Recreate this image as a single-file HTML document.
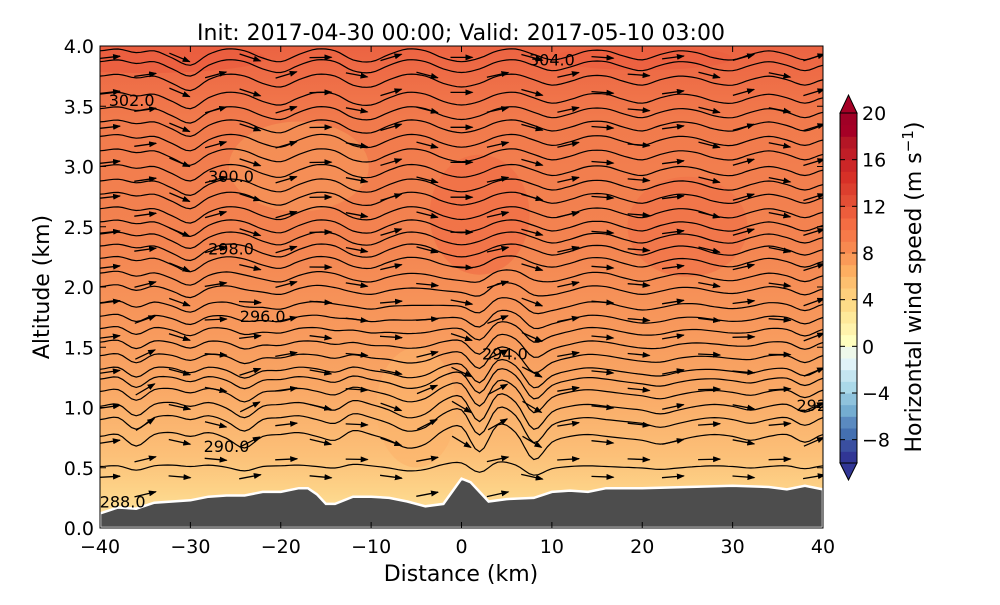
<!DOCTYPE html>
<html><head><meta charset="utf-8"><style>
body{margin:0;background:#fff;}
svg text{font-family:"DejaVu Sans","Liberation Sans",sans-serif;}
</style></head><body>
<svg id="c" width="1000" height="600" xmlns="http://www.w3.org/2000/svg">
<defs>
<linearGradient id="bg" x1="0" y1="1" x2="0" y2="0">
<stop offset="0" stop-color="#fee8a0"/><stop offset="0.08" stop-color="#fdd287"/>
<stop offset="0.15" stop-color="#fcc078"/><stop offset="0.3" stop-color="#f9a664"/>
<stop offset="0.45" stop-color="#f7955a"/><stop offset="0.6" stop-color="#f38350"/>
<stop offset="0.85" stop-color="#f17a4c"/><stop offset="1" stop-color="#ec6342"/>
</linearGradient>
<clipPath id="pc"><rect x="100" y="46" width="723" height="482"/></clipPath>
<marker id="ah" markerWidth="8" markerHeight="6" refX="7" refY="3" orient="auto" markerUnits="userSpaceOnUse"><path d="M0,0 L8,3 L0,6 z" fill="#000"/></marker>
</defs>
<g id="plot" clip-path="url(#pc)"></g>
<rect x="100" y="46" width="723" height="482" fill="none" stroke="#000" stroke-width="1"/>
<g id="axes"></g>
<g id="cbar"></g>
<text x="461" y="40" text-anchor="middle" font-size="22">Init: 2017-04-30 00:00; Valid: 2017-05-10 03:00</text>
<text x="461" y="581" text-anchor="middle" font-size="22">Distance (km)</text>
<text transform="translate(49,287) rotate(-90)" text-anchor="middle" font-size="22">Altitude (km)</text>
<text transform="translate(921,287) rotate(-90)" text-anchor="middle" font-size="22">Horizontal wind speed (m s<tspan dy="-8" font-size="15">−1</tspan><tspan dy="8">)</tspan></text>
</svg>
<script>
const terrainX=[-40,-38,-36,-34,-30,-28,-26,-24,-22,-20,-18,-17,-16,-15,-14,-12,-10,-8,-6,-4,-2,0,1,2,3,5,8,10,12,14,16,20,25,30,34,36,38,40];
const terrainH=[.12,.17,.16,.21,.23,.26,.27,.27,.30,.30,.33,.33,.28,.20,.20,.26,.26,.25,.22,.18,.20,.41,.38,.30,.22,.24,.25,.30,.31,.30,.33,.33,.34,.35,.34,.32,.35,.32];
const dispX=[-40,-38,-36,-34,-32,-30,-28,-26,-24,-22,-20,-18,-16,-14,-12,-10,-8,-6,-4,-2,0,2,4,6,8,10,12,14,16,18,20,22,24,26,28,30,32,34,36,38,40];
const dispUpper=[.02,.03,.01,.02,-.02,-.06,0,.03,.02,-.02,-.04,0,.03,.02,-.03,-.04,0,.03,.02,-.02,-.04,-.02,.02,.03,0,-.03,-.01,.02,.02,-.01,-.03,0,.02,.01,-.02,-.03,0,.02,0,-.03,0];
const dispLower=[0,.01,-.05,.01,.02,0,.02,-.01,-.06,0,.01,.02,0,-.02,.03,.01,-.02,-.06,-.04,.03,.05,-.08,.06,.02,-.12,-.03,0,.01,0,-.01,-.02,-.04,-.02,0,.01,0,-.02,0,.01,-.03,.01];
const isoLevels=[.51,.76,.9,1.01,1.13,1.23,1.31,1.42,1.53,1.64,1.74,1.85,1.98,2.09,2.21,2.31,2.41,2.51,2.62,2.74,2.85,2.97,3.1,3.22,3.34,3.45,3.57,3.72,3.84,3.93];
const labelText=["288.0","290.0","292.0","294.0","296.0","298.0","300.0","302.0","304.0"];
const labelX=[-37.5,-26,39.6,4.8,-22,-25.5,-25.5,-36.5,10];
const labelY=[.22,.68,1.02,1.45,1.76,2.32,2.92,3.55,3.89];
const cbarTicks=[20,16,12,8,4,0,-4,-8];
const cbarColors=["#313695","#3a4fa0","#4470b1","#5a8ac0","#74add1","#8fc3dd","#abd9e9","#c4e5f0","#e0f3f8","#eef8ea","#ffffbf","#fff3ac","#fee99a","#fedc88","#fece7c","#fdbf6f","#fdae61","#fa9a58","#f88950","#f67a49","#f46d43","#ec5d3c","#e34e35","#dc3f2e","#d73027","#cc2627","#c01e27","#b41626","#a50026","#a00026"];
const NS="http://www.w3.org/2000/svg";
const X=x=>100+(x+40)/80*723, Y=y=>528-y/4*482;
const CY=v=>463-(v+10)*350/30;
function interp(xs,ys,x){for(let i=0;i<xs.length-1;i++){if(x>=xs[i]&&x<=xs[i+1]){const t=(x-xs[i])/(xs[i+1]-xs[i]);return ys[i]+t*(ys[i+1]-ys[i]);}}return x<xs[0]?ys[0]:ys[ys.length-1];}
function cr(xs,ys,x){const n=xs.length;for(let i=0;i<n-1;i++){if(x>=xs[i]&&x<=xs[i+1]){const t=(x-xs[i])/(xs[i+1]-xs[i]);const p0=ys[Math.max(0,i-1)],p1=ys[i],p2=ys[i+1],p3=ys[Math.min(n-1,i+2)];
return 0.5*((2*p1)+(-p0+p2)*t+(2*p0-5*p1+4*p2-p3)*t*t+(-p0+3*p1-3*p2+p3)*t*t*t);}}return x<xs[0]?ys[0]:ys[n-1];}
function disp(h,x){const w=Math.max(0,Math.min(1,(2.3-h)/1.3));const aL=h<0.6?0.6:1.6;return (1-w)*1.5*cr(dispX,dispUpper,x)+w*aL*cr(dispX,dispLower,x);}
function mk(tag,attrs,parent){const e=document.createElementNS(NS,tag);for(const k in attrs)e.setAttribute(k,attrs[k]);parent.appendChild(e);return e;}
const plot=document.getElementById('plot');
const bgr=mk('rect',{x:100,y:46,width:723,height:482,fill:'url(#bg)'},plot);


const patches=[[-18,3.0,70,45,"#f7995c"],[2,2.6,50,60,"#f06b45"],[25,2.5,60,50,"#f07048"],[-5,1.0,40,60,"#fbb36b"],[-35,3.9,120,15,"#ea5a3d"],[20,3.9,90,12,"#eb5e3f"]];
patches.forEach(p=>{const e=mk('ellipse',{cx:X(p[0]),cy:Y(p[1]),rx:p[2],ry:p[3],fill:p[4],opacity:.6},plot);

});
isoLevels.forEach(h=>{let d='';for(let x=-40;x<=40.01;x+=0.5){const tH=interp(terrainX,terrainH,x);let y=h+disp(h,x);if(y<tH+0.08)y=tH+0.08;d+=(d?'L':'M')+X(x).toFixed(1)+','+Y(y).toFixed(1);}
const p=mk('path',{d:d,fill:'none',stroke:'#000','stroke-width':1.2},plot);

});
let row=0;
for(let h=0.28;h<3.98;h+=0.145,row++){const off=(row%2)?-39:-35;for(let x=off;x<40;x+=7.8){const tH=interp(terrainX,terrainH,x);if(h<tH+0.05)continue;
const s=(disp(h,x+0.5)-disp(h,x-0.5));const px=X(x),py=Y(h);const ang=Math.atan2(-s*120.5*0.8,9.04);const L=22;
const a=mk('line',{x1:(px-Math.cos(ang)*L/2).toFixed(1),y1:(py-Math.sin(ang)*L/2).toFixed(1),x2:(px+Math.cos(ang)*L/2).toFixed(1),y2:(py+Math.sin(ang)*L/2).toFixed(1),stroke:'#000','stroke-width':1.3,'marker-end':'url(#ah)'},plot);

}}
let td='M'+X(-40)+','+Y(0);terrainX.forEach((x,i)=>td+='L'+X(x).toFixed(1)+','+Y(terrainH[i]).toFixed(1));td+='L'+X(40)+','+Y(0)+'Z';
const ter=mk('path',{d:td,fill:'#4d4d4d',stroke:'#fff','stroke-width':2.5},plot);


labelText.forEach((t,i)=>{const e=mk('text',{x:X(labelX[i]),y:Y(labelY[i])+6,'font-size':16,'text-anchor':'middle'},plot);e.textContent=t;

});
const ax=document.getElementById('axes');
[-40,-30,-20,-10,0,10,20,30,40].forEach(v=>{mk('line',{x1:X(v),x2:X(v),y1:528,y2:522,stroke:'#000'},ax);mk('line',{x1:X(v),x2:X(v),y1:46,y2:52,stroke:'#000'},ax);
const t=mk('text',{x:X(v),y:553,'font-size':19,'text-anchor':'middle'},ax);t.textContent=v<0?'−'+(-v):v;

});
[0,0.5,1,1.5,2,2.5,3,3.5,4].forEach(v=>{mk('line',{x1:100,x2:106,y1:Y(v),y2:Y(v),stroke:'#000'},ax);mk('line',{x1:823,x2:817,y1:Y(v),y2:Y(v),stroke:'#000'},ax);
const t=mk('text',{x:94,y:Y(v)+7,'font-size':19,'text-anchor':'end'},ax);t.textContent=v.toFixed(1);

});
const cb=document.getElementById('cbar');
cbarColors.forEach((c,i)=>{const v0=-10+i;const r=mk('rect',{x:840,y:CY(v0+1),width:17,height:CY(v0)-CY(v0+1)+0.5,fill:c},cb);

});
const tu=mk('path',{d:`M840,${CY(20)} L848.5,95 L857,${CY(20)} Z`,fill:'#a50026',stroke:'#000','stroke-width':1},cb);


const td2=mk('path',{d:`M840,${CY(-10)} L848.5,480 L857,${CY(-10)} Z`,fill:'#313695',stroke:'#000','stroke-width':1},cb);


mk('rect',{x:840,y:CY(20),width:17,height:CY(-10)-CY(20),fill:'none',stroke:'#000'},cb);
cbarTicks.forEach(v=>{mk('line',{x1:852,x2:857,y1:CY(v),y2:CY(v),stroke:'#000'},cb);mk('line',{x1:840,x2:845,y1:CY(v),y2:CY(v),stroke:'#000'},cb);
const t=mk('text',{x:862,y:CY(v)+7,'font-size':19},cb);t.textContent=v<0?'−'+(-v):v;

});
</script>
</body></html>
